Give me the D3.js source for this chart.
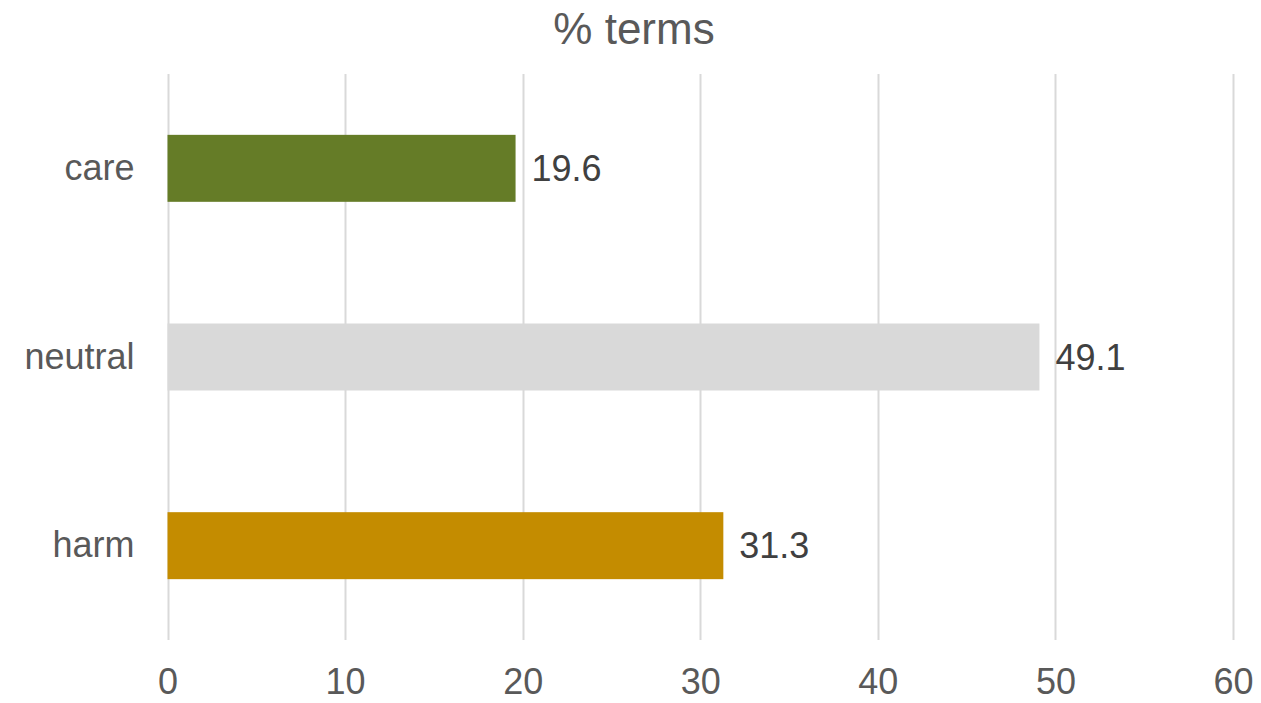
<!DOCTYPE html>
<html>
<head>
<meta charset="utf-8">
<script src="https://cdn.jsdelivr.net/npm/d3@7"></script>
<style>
  html, body { margin: 0; padding: 0; background: #fff; }
  svg { display: block; font-family: "Liberation Sans", Arial, sans-serif; }
</style>
</head>
<body>
<svg id="chart" width="1261" height="703"></svg>
<script>
// Share of terms by sentiment category
const categories = ["care", "neutral", "harm"];
const values = [19.6, 49.1, 31.3];
const barColors = ["#657C27", "#D9D9D9", "#C48C00"];
const tickValues = [0, 10, 20, 30, 40, 50, 60];
const title = "% terms";

const width = 1261, height = 703;
const margin = { top: 74, right: 28, bottom: 63, left: 167.5 };

const svg = d3.select("#chart");

const x = d3.scaleLinear()
  .domain([0, 60])
  .range([margin.left, width - margin.right]);

const y = d3.scaleBand()
  .domain(categories)
  .range([margin.top, height - margin.bottom])
  .paddingInner(0.645)
  .paddingOuter(0.3225);

// vertical gridlines
svg.append("g")
  .selectAll("line")
  .data(tickValues)
  .join("line")
  .attr("x1", d => Math.round(x(d)) + 0.5)
  .attr("x2", d => Math.round(x(d)) + 0.5)
  .attr("y1", margin.top)
  .attr("y2", height - margin.bottom)
  .attr("stroke", "#D9D9D9")
  .attr("stroke-width", 2);

// bars
svg.append("g")
  .selectAll("rect")
  .data(categories)
  .join("rect")
  .attr("x", x(0))
  .attr("y", d => y(d))
  .attr("width", (d, i) => x(values[i]) - x(0))
  .attr("height", y.bandwidth())
  .attr("fill", (d, i) => barColors[i]);

// value labels
svg.append("g")
  .selectAll("text")
  .data(categories)
  .join("text")
  .attr("x", (d, i) => x(values[i]) + 16)
  .attr("y", d => y(d) + y.bandwidth() / 2)
  .attr("dy", "0.35em")
  .attr("font-size", 36)
  .attr("fill", "#404040")
  .text((d, i) => values[i].toFixed(1));

// x axis tick labels
const xAxis = d3.axisBottom(x)
  .tickValues(tickValues)
  .tickSize(0)
  .tickPadding(0)
  .tickFormat(d3.format("d"));

const gx = svg.append("g")
  .attr("transform", `translate(0,${height - 9})`)
  .call(xAxis);
gx.select(".domain").remove();
gx.selectAll("text")
  .attr("y", 0)
  .attr("dy", 0)
  .attr("font-size", 36)
  .attr("font-family", "Liberation Sans, Arial, sans-serif")
  .attr("fill", "#595959");

// y axis category labels
const yAxis = d3.axisLeft(y).tickSize(0).tickPadding(33);
const gy = svg.append("g")
  .attr("transform", `translate(${x(0)},0)`)
  .call(yAxis);
gy.select(".domain").remove();
gy.selectAll("text")
  .attr("font-size", 36)
  .attr("font-family", "Liberation Sans, Arial, sans-serif")
  .attr("fill", "#595959");

// title
svg.append("text")
  .attr("x", 634)
  .attr("y", 44)
  .attr("text-anchor", "middle")
  .attr("font-size", 44)
  .attr("fill", "#595959")
  .text(title);
</script>
</body>
</html>
